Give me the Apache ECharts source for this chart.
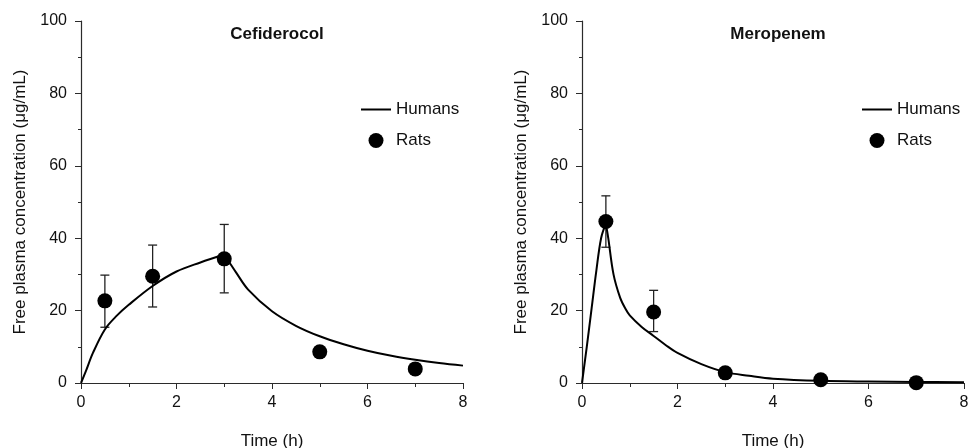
<!DOCTYPE html>
<html>
<head>
<meta charset="utf-8">
<script src="https://cdn.jsdelivr.net/npm/echarts@6/dist/echarts.min.js"></script>
<style>
  html, body { margin: 0; padding: 0; background: #fff; }
  #chart { width: 968px; height: 448px; }
</style>
</head>
<body>
<div id="chart"></div>
<script>
// panel titles
const panelTitles = ['Cefiderocol', 'Meropenem'];

// rat observations (time h, mean µg/mL)
const ratTime = [0.5, 1.5, 3, 5, 7];
const cefRat = [22.7, 29.5, 34.3, 8.6, 3.9];
const merRat = [44.6, 19.6, 2.8, 0.9, 0.1];

// error bars: [time, low, high]
const cefErr = [[0.5, 15.4, 29.8], [1.5, 21.0, 38.1], [3, 24.9, 43.8]];
const merErr = [[0.5, 37.5, 51.7], [1.5, 14.2, 25.6]];

// human simulated curves (infusion phase and after)
const cefRiseT = [0, 0.1, 0.25, 0.5, 0.75, 1, 1.5, 2, 2.5, 3];
const cefRiseV = [0, 3.2, 8.3, 14.8, 18.6, 21.6, 26.8, 30.8, 33.3, 35.5];
const cefFallT = [3, 3.25, 3.5, 4, 4.5, 5, 5.5, 6, 6.5, 7, 7.5, 8];
const cefFallV = [35.5, 30.5, 25.8, 19.8, 15.8, 12.9, 10.7, 8.9, 7.5, 6.4, 5.5, 4.8];

const merRiseT = [0, 0.1, 0.2, 0.3, 0.4, 0.5];
const merRiseV = [0, 10, 20.5, 31, 40, 44];
const merFallT = [0.5, 0.55, 0.66, 0.8, 0.91, 1, 1.25, 1.5, 1.75, 2, 2.5, 3, 3.5, 4, 5, 6, 7, 8];
const merFallV = [44, 40, 30, 23.5, 20.5, 18.7, 15.5, 13, 10.5, 8.3, 5.2, 3.0, 2.0, 1.2, 0.6, 0.4, 0.3, 0.2];

const xTicks = { min: 0, max: 8, interval: 2 };
const yTicks = { min: 0, max: 100, interval: 20 };

const FONT = "'Liberation Sans', Arial, sans-serif";
const AXIS_COLOR = '#2b2b2b';

function zip(a, b) { return a.map((v, i) => [v, b[i]]); }

function errorBar(params, api) {
  const x = api.value(0);
  const lo = api.coord([x, api.value(1)]);
  const hi = api.coord([x, api.value(2)]);
  const cap = 4.5;
  const st = { stroke: '#222', lineWidth: 1.3 };
  return {
    type: 'group',
    children: [
      { type: 'line', shape: { x1: hi[0], y1: hi[1], x2: lo[0], y2: lo[1] }, style: st },
      { type: 'line', shape: { x1: hi[0] - cap, y1: hi[1], x2: hi[0] + cap, y2: hi[1] }, style: st },
      { type: 'line', shape: { x1: lo[0] - cap, y1: lo[1], x2: lo[0] + cap, y2: lo[1] }, style: st }
    ]
  };
}

function xAxisOf(idx) {
  return {
    gridIndex: idx, type: 'value', min: xTicks.min, max: xTicks.max, interval: xTicks.interval,
    name: 'Time (h)', nameLocation: 'middle', nameGap: 50,
    nameTextStyle: { color: '#111', fontSize: 17, fontFamily: FONT },
    axisLine: { lineStyle: { color: AXIS_COLOR, width: 1.2 } },
    axisTick: { show: true, length: 6, lineStyle: { color: AXIS_COLOR } },
    minorTick: { show: true, splitNumber: 2, length: 4, lineStyle: { color: AXIS_COLOR } },
    axisLabel: { color: '#111', fontSize: 16, fontFamily: FONT, margin: 12 },
    splitLine: { show: false }
  };
}

function yAxisOf(idx) {
  return {
    gridIndex: idx, type: 'value', min: yTicks.min, max: yTicks.max, interval: yTicks.interval,
    name: 'Free plasma concentration (μg/mL)', nameLocation: 'middle', nameGap: 52,
    nameTextStyle: { color: '#111', fontSize: 17, fontFamily: FONT },
    axisLine: { show: true, lineStyle: { color: AXIS_COLOR, width: 1.2 } },
    axisTick: { show: true, length: 6, lineStyle: { color: AXIS_COLOR } },
    minorTick: { show: true, splitNumber: 2, length: 3, lineStyle: { color: AXIS_COLOR } },
    axisLabel: { color: '#111', fontSize: 16, fontFamily: FONT, margin: 14 },
    splitLine: { show: false }
  };
}

function humanLine(idx, data) {
  return {
    name: 'Humans', type: 'line', xAxisIndex: idx, yAxisIndex: idx,
    data: data, symbol: 'none', smooth: 0.35,
    lineStyle: { color: '#000', width: 2 }, itemStyle: { color: '#000' }, z: 3
  };
}

function ratScatter(idx, data) {
  return {
    name: 'Rats', type: 'scatter', xAxisIndex: idx, yAxisIndex: idx,
    data: data, symbol: 'circle', symbolSize: 15,
    itemStyle: { color: '#000', opacity: 1 }, z: 5
  };
}

function errSeries(idx, data) {
  return {
    type: 'custom', xAxisIndex: idx, yAxisIndex: idx,
    data: data, renderItem: errorBar, z: 2, silent: true
  };
}

const panelCenters = [272, 773];
const legendLeft = [361, 862];

const option = {
  animation: false,
  backgroundColor: '#fff',
  textStyle: { fontFamily: FONT },
  title: panelTitles.map((t, i) => ({
    text: t, left: panelCenters[i], top: 21, textAlign: 'center',
    textStyle: { fontSize: 17, fontWeight: 'bold', color: '#111', fontFamily: FONT }
  })),
  grid: [
    { left: 81, top: 21, width: 382, height: 362, containLabel: false, outerBoundsMode: 'none' },
    { left: 582, top: 21, width: 382, height: 362, containLabel: false, outerBoundsMode: 'none' }
  ],
  legend: legendLeft.map(l => ({
    left: l, top: 101, padding: 0, orient: 'vertical', itemWidth: 30, itemHeight: 15, itemGap: 14,
    selectedMode: false,
    data: [
      { name: 'Humans', icon: 'path://M0,0 H30 V2 H0 Z' },
      { name: 'Rats', icon: 'circle' }
    ],
    textStyle: { fontSize: 17, color: '#111', fontFamily: FONT }
  })),
  xAxis: [xAxisOf(0), xAxisOf(1)],
  yAxis: [yAxisOf(0), yAxisOf(1)],
  series: [
    humanLine(0, zip(cefRiseT, cefRiseV)),
    humanLine(0, zip(cefFallT, cefFallV)),
    errSeries(0, cefErr),
    ratScatter(0, zip(ratTime, cefRat)),
    humanLine(1, zip(merRiseT, merRiseV)),
    humanLine(1, zip(merFallT, merFallV)),
    errSeries(1, merErr),
    ratScatter(1, zip(ratTime, merRat))
  ]
};

const chart = echarts.init(document.getElementById('chart'));
chart.setOption(option);
</script>
</body>
</html>
